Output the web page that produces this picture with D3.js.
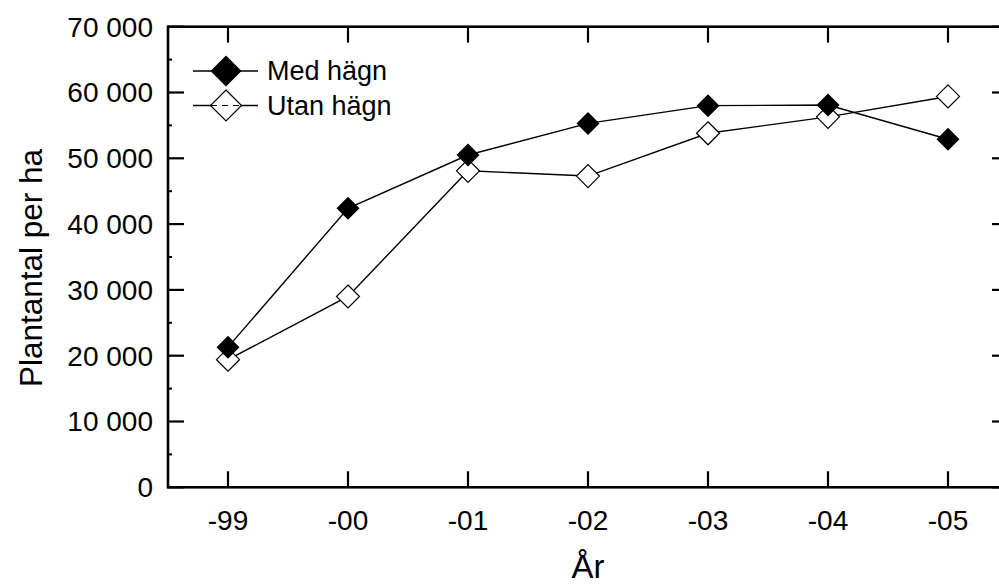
<!DOCTYPE html>
<html><head><meta charset="utf-8">
<script src="https://cdn.jsdelivr.net/npm/d3@7"></script>
<style>body{margin:0;background:#fff}svg{display:block}text{font-family:"Liberation Sans",Arial,sans-serif;fill:#000}</style>
</head><body><svg id="c" width="999" height="585"></svg>
<script>
const categories = ["-99","-00","-01","-02","-03","-04","-05"];
const medHagn = [21300, 42400, 50500, 55300, 58000, 58100, 52900];
const utanHagn = [19400, 29000, 48100, 47300, 53800, 56300, 59400];
const seriesNames = ["Med hägn", "Utan hägn"];
const yTicks = [0,10000,20000,30000,40000,50000,60000,70000];

const svg = d3.select("#c");
const L=168, R=1008, T=26.7, B=487.3;
const x = d3.scaleLinear().domain([-0.5, categories.length-0.5]).range([L,R]);
const y = d3.scaleLinear().domain([0,70000]).range([B,T]);
const fmt = v => d3.format(",")(v).replace(/,/g," ");

// y tick labels
svg.append("g").selectAll("text").data(yTicks).join("text")
  .attr("x", 153).attr("y", d=>y(d)).attr("dy","0.35em").attr("text-anchor","end")
  .attr("font-size",28).text(fmt);
// x tick labels
svg.append("g").selectAll("text").data(categories).join("text")
  .attr("x",(d,i)=>x(i)).attr("y",530).attr("text-anchor","middle")
  .attr("font-size",28).text(d=>d);
// titles
svg.append("text").attr("x",588).attr("y",578).attr("text-anchor","middle").attr("font-size",33).text("År");
svg.append("text").attr("transform","translate(42,268) rotate(-90)").attr("text-anchor","middle").attr("font-size",31.5).text("Plantantal per ha");

// ticks
const tk = svg.append("g").attr("stroke","#000");
yTicks.forEach(v=>{
  tk.append("line").attr("x1",L).attr("x2",L+16).attr("y1",y(v)).attr("y2",y(v)).attr("stroke-width",2.2);
  tk.append("line").attr("x1",R).attr("x2",R-16).attr("y1",y(v)).attr("y2",y(v)).attr("stroke-width",2.2);
});
d3.range(5000,70000,10000).forEach(v=>{
  tk.append("line").attr("x1",L-1).attr("x2",L+4).attr("y1",y(v)).attr("y2",y(v)).attr("stroke-width",2);
  tk.append("line").attr("x1",R).attr("x2",R-4).attr("y1",y(v)).attr("y2",y(v)).attr("stroke-width",2);
});
categories.forEach((c,i)=>{
  tk.append("line").attr("x1",x(i)).attr("x2",x(i)).attr("y1",B).attr("y2",B-16).attr("stroke-width",2.2);
  tk.append("line").attr("x1",x(i)).attr("x2",x(i)).attr("y1",T).attr("y2",T+16).attr("stroke-width",2.2);
});
// frame
svg.append("rect").attr("x",L).attr("y",T).attr("width",R-L).attr("height",B-T)
  .attr("fill","none").attr("stroke","#000").attr("stroke-width",2.6);

const diamond = (cx,cy,r)=>`M${cx},${cy-r}L${cx+r},${cy}L${cx},${cy+r}L${cx-r},${cy}Z`;
const line = d3.line().x((d,i)=>x(i)).y(d=>y(d));

// open series first
svg.append("path").attr("d",line(utanHagn)).attr("fill","none").attr("stroke","#000").attr("stroke-width",1.4);
svg.append("g").selectAll("path").data(utanHagn).join("path")
  .attr("d",(d,i)=>diamond(x(i),y(d),11.5)).attr("fill","#fff").attr("stroke","#000").attr("stroke-width",1.2);
svg.append("path").attr("d",line(medHagn)).attr("fill","none").attr("stroke","#000").attr("stroke-width",1.4);
svg.append("g").selectAll("path").data(medHagn).join("path")
  .attr("d",(d,i)=>diamond(x(i),y(d),11.5)).attr("fill","#000");

// legend
const lg = svg.append("g");
const ly = [71, 105.5];
seriesNames.forEach((n,k)=>{
  lg.append("line").attr("x1",193).attr("x2",258).attr("y1",ly[k]).attr("y2",ly[k]).attr("stroke","#000").attr("stroke-width",1.4);
  if(k===0){
    lg.append("path").attr("d",diamond(226,ly[k],15.5)).attr("fill","#000");
  } else {
    lg.append("path").attr("d",diamond(226,ly[k],15.5)).attr("fill","#fff").attr("stroke","#000").attr("stroke-width",1.2);
    lg.append("line").attr("x1",211).attr("x2",241).attr("y1",ly[k]).attr("y2",ly[k]).attr("stroke","#000").attr("stroke-width",1.2).attr("stroke-dasharray","6,5");
  }
  lg.append("text").attr("x",267).attr("y",ly[k]).attr("dy","0.35em").attr("font-size",27).text(n);
});
</script></body></html>
